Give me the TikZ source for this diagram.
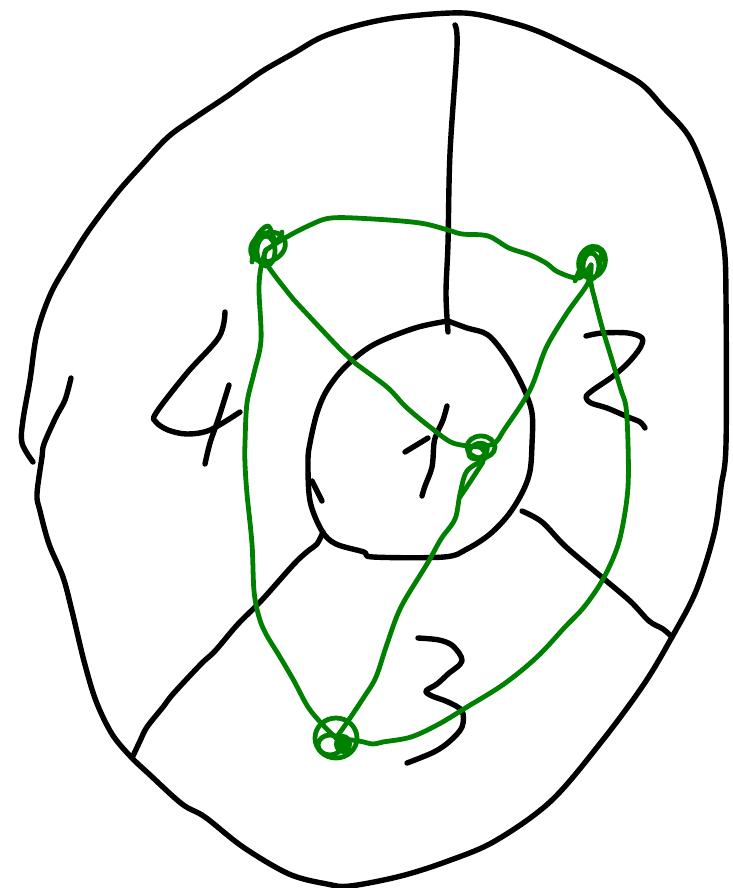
\documentclass[tikz,border=0pt]{standalone}
\definecolor{pen}{RGB}{0,128,0}
\tikzset{
  ink/.style={line width=5.4pt, black, line cap=round, line join=round},
  gink/.style={line width=4.8pt, pen, line cap=round, line join=round},
  sm/.style={smooth, tension=0.55}
}
\begin{document}
\begin{tikzpicture}[x=1pt,y=-1pt]
\useasboundingbox (0,0) rectangle (732,888);
% outer loop
\draw[ink] plot[sm] coordinates {(71,378) (65,400) (56,417) (44,444) (42,457) (37,494) (40,511) (49,544) (63,577) (72,611) (84,661) (96,701) (112,734) (131,757) (149,774) (182,804) (205,817) (243,847) (289,874) (327,884) (350,886) (401,876) (448,861) (495,841) (551,801) (602,741) (644,684) (672,637) (696,591) (714,534) (721,487) (726,444) (726,300) (724,247) (714,200) (691,140) (663,107) (640,83) (602,62) (584,53) (542,33) (509,22) (464,13) (401,17) (359,25) (322,37) (294,53) (261,72) (229,95) (196,117) (168,137) (140,167) (117,193) (89,230) (70,260) (51,293) (37,333) (30,380) (23,420) (22,443) (33,462)};
% inner circle
\draw[ink] plot[sm] coordinates {(448,321) (415,328) (373,345) (345,367) (327,390) (317,413) (310,443) (308,461) (310,501) (322,531) (336,544) (364,552) (373,557) (444,557) (467,549) (490,534) (509,514) (523,491) (530,471) (532,444) (532,413) (523,387) (507,358) (488,335) (467,328) (448,321)};
\draw[ink] (312,481) -- (322,501);
% spokes
\draw[ink] plot[sm] coordinates {(455,25) (457,47) (450,153) (448,243) (446,293) (448,332)};
\draw[ink] plot[sm] coordinates {(323,532) (317,544) (308,551) (294,564) (261,601) (238,624) (215,651) (201,664) (173,694) (163,707) (147,727) (140,741) (133,756)};
\draw[ink] plot[sm] coordinates {(522,511) (542,522) (565,546) (598,574) (630,601) (649,621) (663,629) (672,637)};
% digits
\draw[ink] plot[sm] coordinates {(225,312) (219,337) (187,373) (156,413) (156,422) (168,430) (187,434) (210,430) (240,412)};
\draw[ink] plot[sm] coordinates {(229,385) (219,417) (210,443) (205,464)};
\draw[ink] plot[sm] coordinates {(447,406) (443,420) (437,433) (434,443) (432,467) (425,486) (422,496)};
\draw[ink] (405,452) -- (428,438);
\draw[ink] plot[sm] coordinates {(586,336) (602,333) (628,333) (642,338) (640,348) (628,363) (612,377) (593,390) (586,397) (591,403) (607,408) (628,417) (640,422) (645,428)};
\draw[ink] plot[sm] coordinates {(418,638) (439,640) (453,646) (462,661) (448,674) (437,684) (426,691) (432,696) (448,702) (462,711) (462,727) (450,741) (434,752) (407,763)};
% green nodes
\coordinate (A) at (266,250);
\coordinate (B) at (591,265);
\coordinate (C) at (480,447);
\coordinate (D) at (336,738);
% knots
\draw[gink] (266,251) ellipse [x radius=9, y radius=15];
\draw[gink, rotate around={25:(268,247)}] (268,247) ellipse [x radius=18, y radius=14];
\draw[gink] plot[sm] coordinates {(252,262) (256,238) (268,226) (276,242) (282,232)};
\draw[gink] (591,266) ellipse [x radius=8, y radius=13];
\draw[gink, rotate around={-20:(592,262)}] (592,262) ellipse [x radius=13, y radius=16];
\draw[gink] plot[sm] coordinates {(575,281) (583,262) (590,250) (601,252) (598,272)};
\draw[gink] (481,447) ellipse [x radius=14, y radius=11];
\draw[gink, rotate around={30:(478,451)}] (478,451) ellipse [x radius=10, y radius=7];
\draw[gink] (336,738) ellipse [x radius=21, y radius=20];
\draw[gink] (330,745) ellipse [x radius=12, y radius=10];
\fill[pen] (343,744) ellipse [x radius=9, y radius=10];
% green edges
\draw[gink] plot[sm] coordinates {(A) (285,238) (308,226) (331,218) (373,219) (420,223) (448,230) (462,234) (488,236) (509,248) (530,255) (546,263) (558,272) (579,278) (B)};
\draw[gink] plot[sm] coordinates {(A) (266,263) (294,300) (308,315) (341,350) (355,363) (387,387) (406,407) (430,427) (453,443) (C)};
\draw[gink] plot[sm] coordinates {(B) (588,283) (567,313) (546,348) (530,390) (504,430) (495,443) (C)};
\draw[gink] plot[sm] coordinates {(C) (486,457) (467,471) (460,494) (455,519) (441,539) (427,564) (401,607) (387,644) (376,677) (364,697) (348,721) (D)};
\draw[gink] plot[sm] coordinates {(483,462) (470,482) (460,497)};
\draw[gink] plot[sm] coordinates {(A) (261,267) (259,290) (261,340) (254,373) (247,403) (245,443) (245,464) (247,494) (252,544) (254,591) (259,617) (266,634) (280,657) (294,681) (308,707) (322,724) (D)};
\draw[gink] plot[sm] coordinates {(B) (591,283) (595,300) (602,327) (612,360) (621,390) (626,407) (628,443) (628,487) (623,524) (616,551) (602,581) (584,607) (565,627) (537,657) (504,684) (467,707) (439,724) (411,737) (383,742) (373,744) (359,741) (D)};
\end{tikzpicture}
\end{document}
